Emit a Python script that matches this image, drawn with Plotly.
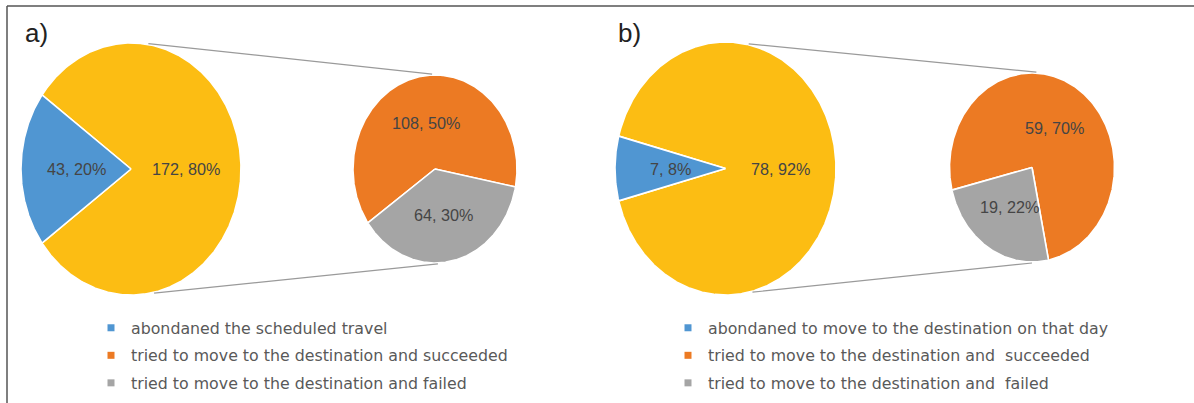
import numpy as np
import plotly.graph_objects as go

# ---------------- data ----------------
main_labels_a = ["abondaned the scheduled travel", "tried to move to the destination"]
main_values_a = [43, 172]
main_pct_a = ["20%", "80%"]
sub_labels_a = ["tried to move to the destination and succeeded",
                "tried to move to the destination and failed"]
sub_values_a = [108, 64]
sub_pct_a = ["50%", "30%"]

main_labels_b = ["abondaned to move to the destination on that day", "tried to move to the destination"]
main_values_b = [7, 78]
main_pct_b = ["8%", "92%"]
sub_labels_b = ["tried to move to the destination and  succeeded",
                "tried to move to the destination and  failed"]
sub_values_b = [59, 19]
sub_pct_b = ["70%", "22%"]

panel_titles = ["a)", "b)"]

# ---------------- style ----------------
BLUE = "#5096d2"
YELLOW = "#fcbd13"
ORANGE = "#ec7a23"
GRAY = "#a5a5a5"
TXT = "#454545"
LABEL_FONT = "Liberation Sans, Arial, sans-serif"
LEGEND_FONT = "DejaVu Sans, Verdana, sans-serif"

W, H = 1194, 403
fig = go.Figure()


def ellipse_pt(cx, cy, rx, ry, deg):
    t = np.deg2rad(deg)
    return cx + rx * np.cos(t), cy - ry * np.sin(t)


def add_slice(cx, cy, rx, ry, a0, a1, color):
    t = np.linspace(a0, a1, max(int(abs(a1 - a0)) * 2, 8))
    xs, ys = ellipse_pt(cx, cy, rx, ry, t)
    xs = np.concatenate([[cx], xs, [cx]])
    ys = np.concatenate([[cy], ys, [cy]])
    fig.add_trace(go.Scatter(x=xs, y=ys, mode="lines", fill="toself",
                             fillcolor=color, line=dict(color="white", width=1.6),
                             hoverinfo="skip", showlegend=False))


def add_label(cx, cy, rx, ry, ang, text):
    x, y = ellipse_pt(cx, cy, rx * 0.5, ry * 0.5, ang)
    fig.add_annotation(x=x, y=y, text=text, showarrow=False, xref="x", yref="y",
                       font=dict(family=LABEL_FONT, size=16.2, color=TXT))


def draw_panel(main_vals, main_pct, sub_vals, sub_pct, big, small, sub_center_ang, conn):
    cx, cy, rx, ry = big
    total = sum(main_vals)
    span_blue = 360.0 * main_vals[0] / total
    b0, b1 = 180 - span_blue / 2, 180 + span_blue / 2
    add_slice(cx, cy, rx, ry, b1, b0 + 360, YELLOW)
    add_slice(cx, cy, rx, ry, b0, b1, BLUE)
    add_label(cx, cy, rx, ry, 180, f"{main_vals[0]}, {main_pct[0]}")
    add_label(cx, cy, rx, ry, 0, f"{main_vals[1]}, {main_pct[1]}")

    scx, scy, srx, sry = small
    sub_total = sum(sub_vals)
    span_gray = 360.0 * sub_vals[1] / sub_total
    g0, g1 = sub_center_ang - span_gray / 2, sub_center_ang + span_gray / 2
    add_slice(scx, scy, srx, sry, g1, g0 + 360, ORANGE)
    add_slice(scx, scy, srx, sry, g0, g1, GRAY)
    add_label(scx, scy, srx, sry, (g1 + g0 + 360) / 2, f"{sub_vals[0]}, {sub_pct[0]}")
    add_label(scx, scy, srx, sry, sub_center_ang, f"{sub_vals[1]}, {sub_pct[1]}")

    bt, bb, st, sb = conn
    for a_big, a_small in ((bt, st), (bb, sb)):
        x0, y0 = ellipse_pt(cx, cy, rx + 1, ry + 1, a_big)
        x1, y1 = ellipse_pt(scx, scy, srx + 1, sry + 1, a_small)
        fig.add_trace(go.Scatter(x=[x0, x1], y=[y0, y1], mode="lines",
                                 line=dict(color="#9a9a9a", width=1.2),
                                 hoverinfo="skip", showlegend=False))


draw_panel(main_values_a, main_pct_a, sub_values_a, sub_pct_a,
           (131, 169, 110, 126), (435, 169, 82, 94), 282, (81, -78, 92, -88))
draw_panel(main_values_b, main_pct_b, sub_values_b, sub_pct_b,
           (725.5, 168.5, 110.5, 126.5), (1032, 167.5, 82.5, 94.5), 237.7, (78, -76, 87, -90))

# legend entries
legend_items = [
    ("legend", main_labels_a[0], BLUE),
    ("legend", sub_labels_a[0], ORANGE),
    ("legend", sub_labels_a[1], GRAY),
    ("legend2", main_labels_b[0], BLUE),
    ("legend2", sub_labels_b[0], ORANGE),
    ("legend2", sub_labels_b[1], GRAY),
]
for i, (lg, name, col) in enumerate(legend_items):
    fig.add_trace(go.Scatter(x=[None], y=[None], mode="markers", name=name,
                             marker=dict(symbol="square", size=7, color=col),
                             legend=lg, legendgroup=f"g{i}", showlegend=True))

leg_common = dict(font=dict(family=LEGEND_FONT, size=15.8, color="#595959"),
                  bgcolor="rgba(0,0,0,0)", tracegroupgap=4, traceorder="grouped",
                  itemclick=False, itemdoubleclick=False,
                  xanchor="left", yanchor="top", orientation="v")
fig.update_layout(
    legend=dict(x=91 / W, y=1 - 311 / H, **leg_common),
    legend2=dict(x=668 / W, y=1 - 311 / H, **leg_common),
)

# panel titles
for txt, px in zip(panel_titles, (23, 616)):
    fig.add_annotation(x=px, y=33, text=txt, showarrow=False, xref="x", yref="y",
                       xanchor="left", font=dict(family=LABEL_FONT, size=26, color="#222222"))

# frame (top and left borders)
fig.add_shape(type="line", x0=7, x1=W, y0=6, y1=6, xref="x", yref="y",
              line=dict(color="#555555", width=1.5))
fig.add_shape(type="line", x0=7, x1=7, y0=6, y1=H, xref="x", yref="y",
              line=dict(color="#555555", width=1.5))

fig.update_layout(
    width=W, height=H, margin=dict(l=0, r=0, t=0, b=0),
    paper_bgcolor="white", plot_bgcolor="white",
    xaxis=dict(range=[0, W], visible=False, fixedrange=True),
    yaxis=dict(range=[H, 0], visible=False, fixedrange=True),
    hovermode=False,
)

fig.write_html("out.html", config={"displayModeBar": False},
               post_script="document.body.style.margin='0px';")
